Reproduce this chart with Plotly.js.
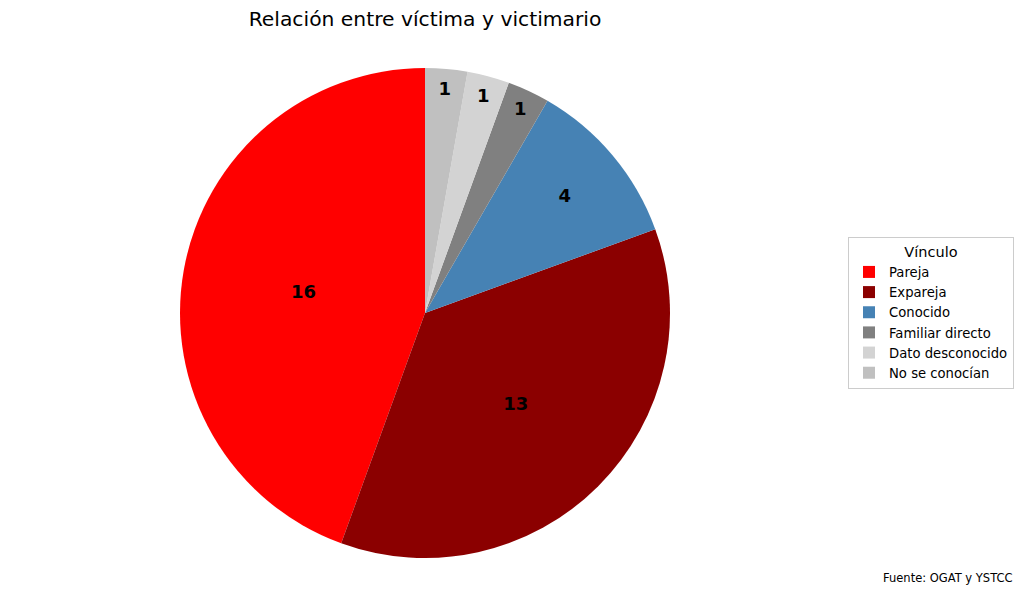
<!DOCTYPE html>
<html>
<head>
<meta charset="utf-8">
<script src="https://cdn.plot.ly/plotly-3.0.1.min.js"></script>
<style>body{margin:0;} #pie{width:1024px;height:596px;}</style>
</head>
<body>
<div id="pie"></div>
<script>
// datos del grafico
var vinculos = ['Pareja', 'Expareja', 'Conocido', 'Familiar directo', 'Dato desconocido', 'No se conocían'];
var casos = [16, 13, 4, 1, 1, 1];
var colores = ['#FF0000', '#8B0000', '#4682B4', '#808080', '#D3D3D3', '#C0C0C0'];

var total = casos.reduce(function (a, b) { return a + b; }, 0);
// la primera porcion empieza arriba y sigue en sentido antihorario
var giro = 360 - 360 * casos[0] / total;

var Pie = document.getElementById("pie");

var trace = {
  labels: vinculos,
  values: casos,
  type: 'pie',
  sort: false,
  direction: 'counterclockwise',
  rotation: giro,
  marker: {colors: colores, line: {width: 0}},
  texttemplate: '<b>%{value}</b>',
  textposition: 'inside',
  insidetextorientation: 'horizontal',
  textfont: {family: 'DejaVu Sans', size: 18, color: 'black'},
  hoverinfo: 'label+value',
  domain: {x: [180/1024, 670/1024], y: [0, 1]}
};

var layout = {
  width: 1024,
  height: 596,
  margin: {l: 0, r: 0, t: 68, b: 38},
  paper_bgcolor: 'white',
  font: {family: 'DejaVu Sans', color: 'black'},
  title: {
    text: 'Relación entre víctima y victimario',
    font: {family: 'DejaVu Sans', size: 20.3, color: 'black'},
    x: 425/1024, xanchor: 'center',
    y: 1 - 19/596, yanchor: 'middle'
  },
  legend: {
    title: {text: 'Vínculo', side: 'top center', font: {size: 14.5}},
    font: {size: 13.2},
    x: 848/1024, xanchor: 'left',
    y: 0.5, yanchor: 'middle',
    bordercolor: '#CCCCCC',
    borderwidth: 1,
    tracegroupgap: 0
  },
  annotations: [{
    text: 'Fuente: OGAT y YSTCC',
    xref: 'paper', yref: 'paper',
    x: 1015/1024, xanchor: 'right',
    y: -20/490, yanchor: 'middle',
    showarrow: false,
    font: {size: 11.5, color: 'black'}
  }]
};

Plotly.newPlot(Pie, [trace], layout, {displayModeBar: false});
</script>
</body>
</html>
